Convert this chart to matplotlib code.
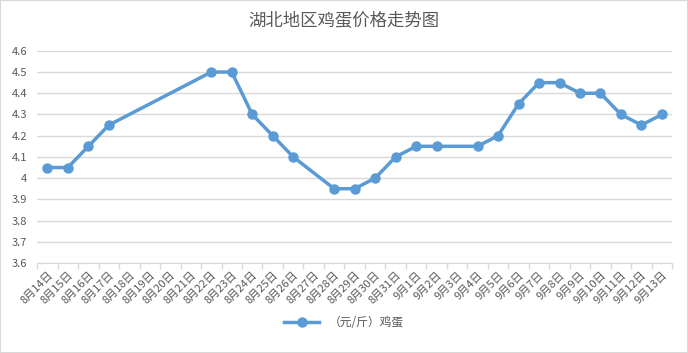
import numpy as np
import matplotlib.pyplot as plt

plt.rcParams['font.family'] = ['Noto Sans CJK SC', 'DejaVu Sans']

# dates on the category axis
dates = ['8月14日', '8月15日', '8月16日', '8月17日', '8月18日', '8月19日', '8月20日',
         '8月21日', '8月22日', '8月23日', '8月24日', '8月25日', '8月26日', '8月27日',
         '8月28日', '8月29日', '8月30日', '8月31日', '9月1日', '9月2日', '9月3日',
         '9月4日', '9月5日', '9月6日', '9月7日', '9月8日', '9月9日', '9月10日',
         '9月11日', '9月12日', '9月13日']
nan = np.nan
# egg price (yuan / jin), nan where no value
price = [4.05, 4.05, 4.15, 4.25, nan, nan, nan, nan, 4.5, 4.5, 4.3, 4.2, 4.1, nan,
         3.95, 3.95, 4.0, 4.1, 4.15, 4.15, nan, 4.15, 4.2, 4.35, 4.45, 4.45, 4.4, 4.4,
         4.3, 4.25, 4.3]
series_name = '（元/斤）鸡蛋'
yticks = [3.6, 3.7, 3.8, 3.9, 4, 4.1, 4.2, 4.3, 4.4, 4.5, 4.6]

grey = '#595959'
blue = '#5b9bd5'

fig = plt.figure(figsize=(6.88, 3.53), dpi=100)
ax = fig.add_axes([0.054, 0.255, 0.923, 0.601])

x = np.arange(len(dates))
y = np.array(price)
ok = ~np.isnan(y)
ax.plot(x[ok], y[ok], color=blue, lw=2.5, marker='o', ms=6.5, label=series_name)

ax.set_xlim(-0.5, len(dates) - 0.5)
ax.set_ylim(3.6, 4.6)
ax.set_yticks(yticks)
ax.set_yticklabels([('%g' % v) for v in yticks], fontsize=8, color=grey)
ax.yaxis.grid(True, color='#d9d9d9', lw=1)
ax.set_axisbelow(True)
ax.tick_params(axis='y', length=0, pad=7)

ax.set_xticks(x)
ax.set_xticklabels(dates, rotation=45, ha='right', va='top', fontsize=8,
                   color=grey, rotation_mode='anchor')
ax.tick_params(axis='x', which='major', length=0, pad=5)
ax.set_xticks(np.arange(len(dates) + 1) - 0.5, minor=True)
ax.tick_params(axis='x', which='minor', length=4, color='#d9d9d9', width=1)

for s in ['top', 'right', 'left']:
    ax.spines[s].set_visible(False)
ax.spines['bottom'].set_color('#d9d9d9')

fig.text(0.5, 0.94, '湖北地区鸡蛋价格走势图', ha='center', va='center',
         fontsize=12.5, color=grey)
fig.legend(loc='center', bbox_to_anchor=(0.5, 0.085), frameon=False,
           fontsize=8.5, labelcolor=grey, handlelength=3)

border = plt.Rectangle((0, 0), 1, 1, transform=fig.transFigure, fill=False,
                       edgecolor='#d9d9d9', lw=1.5)
fig.patches.append(border)

fig.savefig('out.png', dpi=100)
